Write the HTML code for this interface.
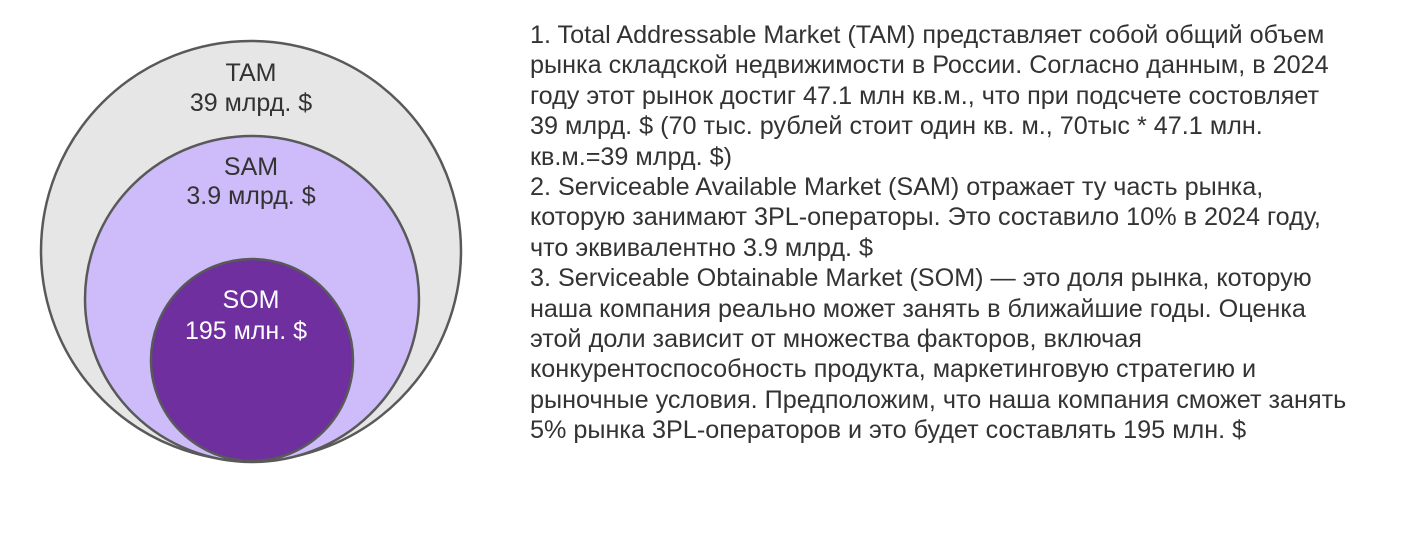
<!DOCTYPE html>
<html><head><meta charset="utf-8"><style>
html,body{margin:0;padding:0;background:#fff;width:1416px;height:546px;overflow:hidden}
svg{position:absolute;left:0;top:0}
#txt{position:absolute;left:530px;top:20px;width:880px;font-family:"Liberation Sans",sans-serif;font-size:25.2px;line-height:30.4px;color:#333;white-space:nowrap}
</style></head><body>
<svg width="1416" height="546">
<circle cx="251" cy="251" r="210" fill="#e6e6e6" stroke="#595959" stroke-width="2.5"/>
<ellipse cx="252" cy="299" rx="167" ry="163" fill="#cdbcf9" stroke="#595959" stroke-width="2.5"/>
<circle cx="252" cy="360" r="101" fill="#6f2f9e" stroke="#595959" stroke-width="2.5"/>
<g font-family="Liberation Sans, sans-serif" font-size="25" text-anchor="middle">
<text x="251" y="81" fill="#333">TAM</text>
<text x="251" y="111" fill="#333">39 млрд. $</text>
<text x="251" y="175" fill="#333">SAM</text>
<text x="251" y="204" fill="#333">3.9 млрд. $</text>
<text x="251" y="308" fill="#fff">SOM</text>
<text x="246" y="339" fill="#fff">195 млн. $</text>
</g>
</svg>
<div id="txt">
1. Total Addressable Market (TAM) представляет собой общий объем<br>
рынка складской недвижимости в России. Согласно данным, в 2024<br>
году этот рынок достиг 47.1 млн кв.м., что при подсчете состовляет<br>
39 млрд. $ (70 тыс. рублей стоит один кв. м., 70тыс * 47.1 млн.<br>
кв.м.=39 млрд. $)<br>
2. Serviceable Available Market (SAM) отражает ту часть рынка,<br>
которую занимают 3PL-операторы. Это составило 10% в 2024 году,<br>
что эквивалентно 3.9 млрд. $<br>
3. Serviceable Obtainable Market (SOM) — это доля рынка, которую<br>
наша компания реально может занять в ближайшие годы. Оценка<br>
этой доли зависит от множества факторов, включая<br>
конкурентоспособность продукта, маркетинговую стратегию и<br>
рыночные условия. Предположим, что наша компания сможет занять<br>
5% рынка 3PL-операторов и это будет составлять 195 млн. $
</div>
</body></html>
